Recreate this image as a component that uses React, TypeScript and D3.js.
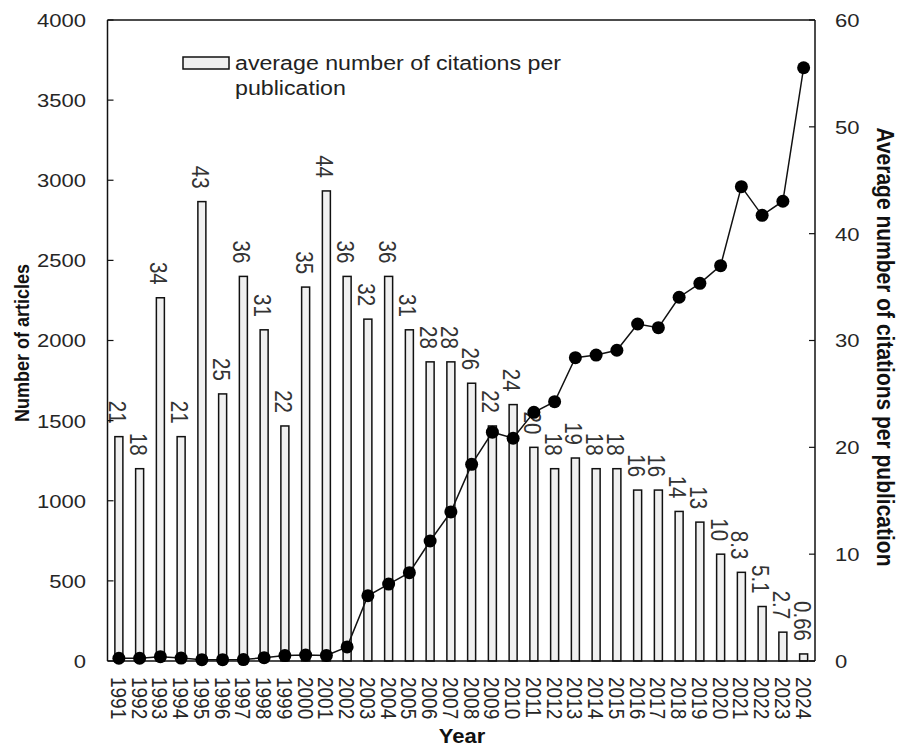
import React from "react";
import * as d3 from "d3";

const years: string[] = [
  "1991","1992","1993","1994","1995","1996","1997","1998","1999","2000",
  "2001","2002","2003","2004","2005","2006","2007","2008","2009","2010",
  "2011","2012","2013","2014","2015","2016","2017","2018","2019","2020",
  "2021","2022","2023","2024",
];

const citationsPerPub: number[] = [
  21, 18, 34, 21, 43, 25, 36, 31, 22, 35,
  44, 36, 32, 36, 31, 28, 28, 26, 22, 24,
  20, 18, 19, 18, 18, 16, 16, 14, 13, 10,
  8.3, 5.1, 2.7, 0.66,
];

const citationLabels: string[] = [
  "21","18","34","21","43","25","36","31","22","35",
  "44","36","32","36","31","28","28","26","22","24",
  "20","18","19","18","18","16","16","14","13","10",
  "8.3","5.1","2.7","0.66",
];

const articles: number[] = [
  17, 17, 27, 18, 8, 8, 9, 21, 34, 37,
  35, 88, 407, 480, 551, 749, 930, 1227, 1428, 1390,
  1552, 1618, 1893, 1909, 1939, 2103, 2080, 2270, 2357, 2467,
  2960, 2781, 2869, 3702,
];

const leftTicks: number[] = [0, 500, 1000, 1500, 2000, 2500, 3000, 3500, 4000];
const rightTicks: number[] = [0, 10, 20, 30, 40, 50, 60];

const legendLines: string[] = ["average number of citations per", "publication"];

const FONT = "'Liberation Sans', Arial, sans-serif";
const SX = 1.16;

export default function App() {
  const left = 107.5;
  const right = 815;
  const top = 20;
  const bottom = 661;

  const x = d3.scaleBand<string>().domain(years).range([108.5, 814]).padding(0);
  const yL = d3.scaleLinear().domain([0, 4000]).range([bottom, top]);
  const yR = d3.scaleLinear().domain([0, 60]).range([bottom, top]);
  const bw = x.bandwidth();
  const barW = 8;
  const cx = (y: string) => (x(y) as number) + bw / 2;

  const line = d3
    .line<number>()
    .x((_, i) => cx(years[i]))
    .y((d) => yL(d));

  const tickColor = "#262626";

  return (
    <svg
      width={899}
      height={749}
      style={{ position: "absolute", left: 0, top: 0, background: "#fff" }}
      fontFamily={FONT}
    >
      <rect x={0} y={0} width={899} height={749} fill="#fff" />

      {/* bars */}
      {years.map((yr, i) => (
        <rect
          key={"b" + yr}
          x={cx(yr) - barW / 2}
          y={yR(citationsPerPub[i])}
          width={barW}
          height={bottom - yR(citationsPerPub[i])}
          fill="#f0f0f0"
          stroke="#111"
          strokeWidth={1.5}
        />
      ))}

      {/* bar labels */}
      {years.map((yr, i) => {
        const ty = yR(citationsPerPub[i]) - 13;
        return (
          <text
            key={"l" + yr}
            transform={`translate(${cx(yr) - 2},${ty}) scale(${SX},1) rotate(90)`}
            textAnchor="end"
            dominantBaseline="central"
            fontSize={20.5}
            fill="#333"
          >
            {citationLabels[i]}
          </text>
        );
      })}

      {/* frame */}
      <line x1={left} x2={left} y1={top} y2={bottom} stroke="#111" strokeWidth={1.5} />
      <line x1={right} x2={right} y1={top} y2={bottom} stroke="#111" strokeWidth={1.5} />
      <line x1={left} x2={right} y1={top} y2={top} stroke="#111" strokeWidth={1.5} />
      <line x1={left} x2={right} y1={bottom} y2={bottom} stroke="#111" strokeWidth={1.5} />

      {/* left ticks */}
      {leftTicks.map((t) => (
        <g key={"lt" + t}>
          <line x1={left} x2={left + 6} y1={yL(t)} y2={yL(t)} stroke="#111" strokeWidth={1.2} />
          <text
            transform={`translate(86,${yL(t)}) scale(${SX},1)`}
            textAnchor="end"
            dominantBaseline="central"
            fontSize={19}
            fill={tickColor}
          >
            {t}
          </text>
        </g>
      ))}

      {/* right ticks */}
      {rightTicks.map((t) => (
        <g key={"rt" + t}>
          <line x1={right - 6} x2={right} y1={yR(t)} y2={yR(t)} stroke="#111" strokeWidth={1.2} />
          <text
            transform={`translate(835,${yR(t)}) scale(${SX},1)`}
            textAnchor="start"
            dominantBaseline="central"
            fontSize={19}
            fill={tickColor}
          >
            {t}
          </text>
        </g>
      ))}

      {/* year labels */}
      {years.map((yr) => (
        <text
          key={"y" + yr}
          transform={`translate(${cx(yr)},${677}) scale(${SX},1) rotate(90)`}
          textAnchor="start"
          dominantBaseline="central"
          fontSize={19}
          fill={tickColor}
        >
          {yr}
        </text>
      ))}

      {/* line + dots */}
      <path d={line(articles) || ""} fill="none" stroke="#111" strokeWidth={1.5} />
      {articles.map((v, i) => (
        <circle key={"c" + i} cx={cx(years[i])} cy={yL(v)} r={6.5} fill="#000" />
      ))}

      {/* axis titles */}
      <text
        transform={`translate(22,${343}) scale(${SX},1) rotate(-90)`}
        textAnchor="middle"
        dominantBaseline="central"
        fontSize={18}
        fontWeight="bold"
        fill="#111"
      >
        Number of articles
      </text>
      <text
        transform={`translate(886,${347}) scale(${SX},1) rotate(90)`}
        textAnchor="middle"
        dominantBaseline="central"
        fontSize={21}
        fontWeight="bold"
        fill="#111"
      >
        Average number of citations per publication
      </text>
      <text
        transform={`translate(462,736) scale(1.1,1)`}
        textAnchor="middle"
        dominantBaseline="central"
        fontSize={20}
        fontWeight="bold"
        fill="#111"
      >
        Year
      </text>

      {/* legend */}
      <rect x={183} y={57} width={46} height={12} fill="#f0f0f0" stroke="#111" strokeWidth={1.5} />
      {legendLines.map((s, i) => (
        <text
          key={"lg" + i}
          transform={`translate(235,${63 + i * 25}) scale(${SX},1)`}
          dominantBaseline="central"
          fontSize={20}
          fill="#222"
        >
          {s}
        </text>
      ))}
    </svg>
  );
}
